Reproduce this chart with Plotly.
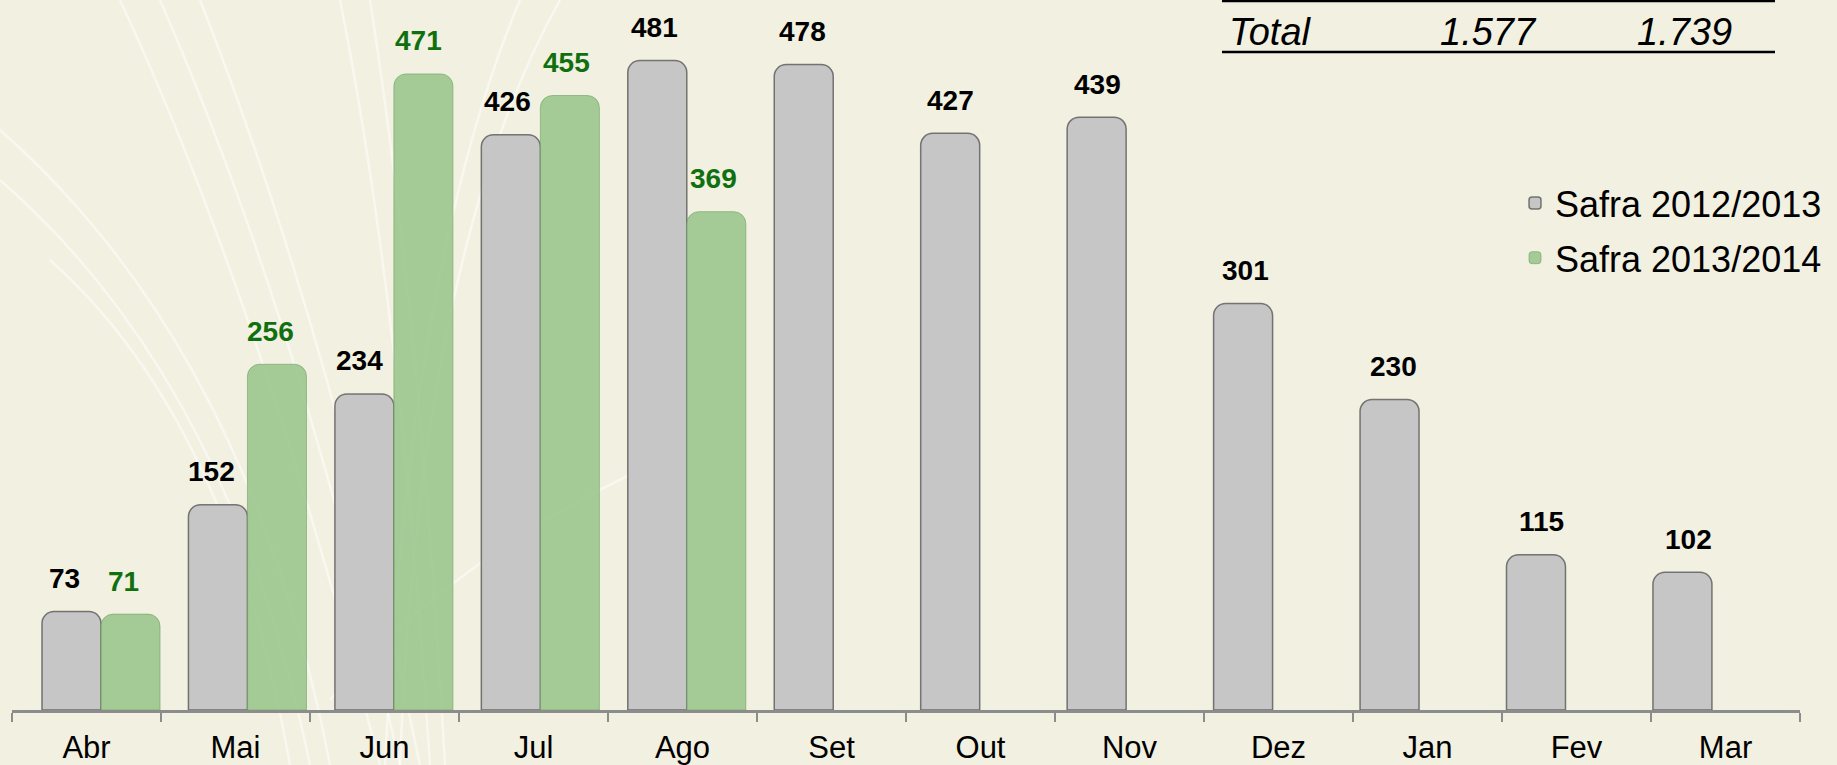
import plotly.graph_objects as go

months = ["Abr", "Mai", "Jun", "Jul", "Ago", "Set", "Out", "Nov", "Dez", "Jan", "Fev", "Mar"]
safra_2012 = [73, 152, 234, 426, 481, 478, 427, 439, 301, 230, 115, 102]
safra_2013 = [71, 256, 471, 455, 369, None, None, None, None, None, None, None]
series_names = ["Safra 2012/2013", "Safra 2013/2014"]
total_label = "Total"
totals = ["1.577", "1.739"]

W, H = 1837, 765
ML, MR, MT, MB = 12, 37, 0, 55
PW = W - ML - MR
PH = H - MT - MB


def px_x(x):
    return (x - ML) / PW


def px_y(y):
    return 1 - (y - MT) / PH


def cat_range(first_center_px, step_px):
    r0 = -(first_center_px - ML) / step_px
    return [r0, r0 + PW / step_px]


FONT = "Liberation Sans, Arial, sans-serif"
GRAY = "#C6C6C6"
GREEN = "rgba(150,196,136,0.85)"
GREEN_TXT = "#107010"

fig = go.Figure()
# bars are drawn on a slightly narrower (perspective) category axis
fig.add_trace(go.Bar(
    x=months, y=safra_2012, name=series_names[0], legendgroup="a", xaxis="x2",
    offset=-0.403, width=0.403,
    marker=dict(color=GRAY, line=dict(color="rgba(80,80,80,0.75)", width=1.5), cornerradius=12),
))
fig.add_trace(go.Bar(
    x=months, y=safra_2013, name=series_names[1], legendgroup="b", xaxis="x2",
    offset=0.0, width=0.403,
    marker=dict(color=GREEN, line=dict(color="rgba(110,160,100,0.6)", width=1), cornerradius=12),
))
# invisible trace to carry the month categories on the main axis
fig.add_trace(go.Bar(x=months, y=[0] * len(months), showlegend=False, hoverinfo="skip",
                     marker=dict(color="rgba(0,0,0,0)")))

annotations = []
for i, v in enumerate(safra_2012):
    annotations.append(dict(x=i, y=v, xref="x3", yref="y", text=f"<b>{v}</b>", showarrow=False,
                            xshift=-29.5, yshift=33, yanchor="middle",
                            font=dict(family=FONT, size=28, color="black")))
for i, v in enumerate(safra_2013):
    if v is None:
        continue
    annotations.append(dict(x=i, y=v, xref="x3", yref="y", text=f"<b>{v}</b>", showarrow=False,
                            xshift=29.5, yshift=33, yanchor="middle",
                            font=dict(family=FONT, size=28, color=GREEN_TXT)))

# Table with totals
tfont = dict(family=FONT, size=38, color="black", style="italic")
annotations.append(dict(x=px_x(1227), y=px_y(32), xref="paper", yref="paper", text=total_label,
                        showarrow=False, xanchor="left", yanchor="middle", font=tfont))
annotations.append(dict(x=px_x(1488), y=px_y(32), xref="paper", yref="paper", text=totals[0],
                        showarrow=False, xanchor="center", yanchor="middle", font=tfont))
annotations.append(dict(x=px_x(1684), y=px_y(32), xref="paper", yref="paper", text=totals[1],
                        showarrow=False, xanchor="center", yanchor="middle", font=tfont))

shapes = []
for yy in (1, 52):
    shapes.append(dict(type="line", xref="paper", yref="paper",
                       x0=px_x(1222), x1=px_x(1775), y0=px_y(yy), y1=px_y(yy),
                       line=dict(color="black", width=2.5)))

# decorative background grass curves
curves = [
    ((120, 0), (260, 300), (380, 765)),
    ((160, 0), (300, 320), (400, 765)),
    ((200, 0), (330, 330), (420, 765)),
    ((340, 0), (400, 300), (430, 765)),
    ((370, 0), (420, 320), (445, 765)),
    ((560, 0), (420, 250), (400, 765)),
    ((520, 0), (410, 260), (385, 765)),
    ((0, 130), (250, 350), (330, 765)),
    ((0, 180), (230, 380), (310, 765)),
    ((50, 260), (230, 420), (290, 765)),
    ((330, 700), (450, 560), (640, 470)),
]
for (a, b, c) in curves:
    path = (f"M {px_x(a[0])},{px_y(a[1])} Q {px_x(b[0])},{px_y(b[1])} {px_x(c[0])},{px_y(c[1])}")
    shapes.append(dict(type="path", xref="paper", yref="paper", path=path, layer="below",
                       line=dict(color="rgba(255,255,255,0.5)", width=2.5)))

n = len(months)
fig.update_layout(
    width=W, height=H,
    margin=dict(l=ML, r=MR, t=MT, b=MB),
    paper_bgcolor="#F2F0E1", plot_bgcolor="rgba(0,0,0,0)",
    barmode="overlay",
    showlegend=True,
    legend=dict(x=px_x(1515), y=px_y(173), xanchor="left", yanchor="top",
                font=dict(family=FONT, size=36, color="black"), bgcolor="rgba(0,0,0,0)",
                traceorder="grouped", tracegroupgap=5),
    xaxis=dict(type="category", domain=[0, 1], range=[-0.5, n - 0.5],
               showline=True, linecolor="#8C8C8C", linewidth=3,
               ticks="outside", tickson="boundaries", ticklen=9, tickwidth=2, tickcolor="#8C8C8C",
               tickfont=dict(family=FONT, size=31, color="black"), ticklabelstandoff=8,
               showgrid=False, zeroline=False, fixedrange=True),
    xaxis2=dict(type="category", overlaying="x", anchor="y",
                range=cat_range(101.0, 146.45),
                visible=False, showgrid=False, zeroline=False, fixedrange=True),
    xaxis3=dict(type="linear", overlaying="x", anchor="y",
                range=cat_range(93.5, 147.7),
                visible=False, showgrid=False, zeroline=False, fixedrange=True),
    yaxis=dict(range=[0, PH / 1.3505], visible=False, showgrid=False, zeroline=False, fixedrange=True),
    annotations=annotations,
    shapes=shapes,
    font=dict(family=FONT),
)

fig.write_html("out.html", config={"displayModeBar": False},
               post_script="document.body.style.margin='0';document.body.style.overflow='hidden';"
                           "document.body.style.background='#F2F0E1';")
